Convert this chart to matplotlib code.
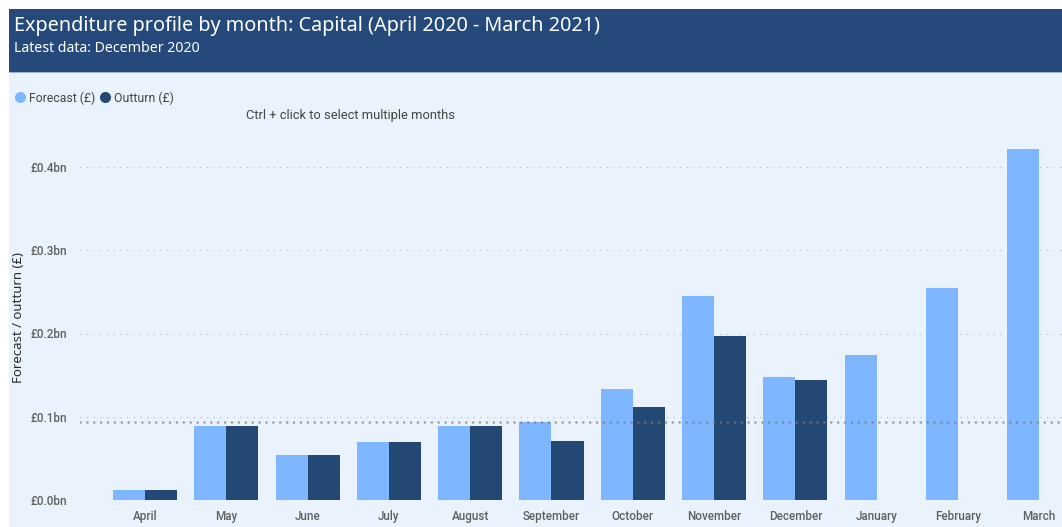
import matplotlib
matplotlib.use("Agg")
import matplotlib.pyplot as plt
from matplotlib.patches import Rectangle
from matplotlib.lines import Line2D
import numpy as np

months = ["April", "May", "June", "July", "August", "September", "October",
          "November", "December", "January", "February", "March"]
forecast = [0.012, 0.089, 0.054, 0.070, 0.089, 0.094, 0.133, 0.245, 0.148, 0.174, 0.255, 0.422]
outturn = [0.012, 0.089, 0.054, 0.070, 0.089, 0.071, 0.112, 0.197, 0.144, np.nan, np.nan, np.nan]
yticks = [0.0, 0.1, 0.2, 0.3, 0.4]
ytick_labels = ["£0.0bn", "£0.1bn", "£0.2bn", "£0.3bn", "£0.4bn"]

C_FORE = "#7eb6ff"
C_OUT = "#234873"
C_HEAD = "#24497a"
C_BG = "#eaf3fd"

W, H = 1062, 527
fig = plt.figure(figsize=(W / 100, H / 100), dpi=100)
fig.patch.set_facecolor("white")

def fx(px):
    return px / W

def fy(py):
    return 1 - py / H

# background panel and header band
fig.patches.append(Rectangle((fx(9), 0), 1 - fx(9), fy(72), transform=fig.transFigure,
                             facecolor=C_BG, edgecolor="none", zorder=-5))
fig.patches.append(Rectangle((fx(9), fy(72)), 1 - fx(9), fy(9) - fy(72), transform=fig.transFigure,
                             facecolor=C_HEAD, edgecolor="none", zorder=-5))
fig.patches.append(Rectangle((fx(9), fy(73)), 1 - fx(9), fy(72) - fy(73), transform=fig.transFigure,
                             facecolor="#9db4d1", edgecolor="none", zorder=-5))

fig.text(fx(14), fy(26), "Expenditure profile by month: Capital (April 2020 - March 2021)",
         color="white", fontsize=14.3, family="Noto Sans", va="center", ha="left")
fig.text(fx(14), fy(49), "Latest data: December 2020", color="white", fontsize=10.2,
         family="Noto Sans", va="center", ha="left")

# axes
top_px, bot_px = 135, 500
left_px, right_px = 80, 1062
ax = fig.add_axes([fx(left_px), fy(bot_px), fx(right_px - left_px), fy(top_px) - fy(bot_px)])
ax.set_facecolor("none")
for s in ax.spines.values():
    s.set_visible(False)

x = np.arange(len(months))
bw = 0.395
ax.bar(x - bw / 2, forecast, width=bw, color=C_FORE, zorder=2, label="Forecast (£)")
ax.bar(x + bw / 2, outturn, width=bw, color=C_OUT, zorder=2, label="Outturn (£)")

avg = np.nanmean(outturn)
ax.axhline(avg, color="#7a7a7a", alpha=0.7, lw=1.9, linestyle=(0, (0.01, 2.6)),
           dash_capstyle="round", zorder=3)

ax.set_ylim(0, (bot_px - top_px) / 832.5)
ax.set_xlim(-0.8, 11.28)
ax.set_yticks(yticks)
ax.set_yticklabels(ytick_labels)
ax.set_xticks(x)
ax.set_xticklabels(months)
ax.tick_params(axis="both", length=0, colors="#5f5f5f", labelsize=8.4)
ax.tick_params(axis="y", pad=9)
ax.tick_params(axis="x", pad=7)
for lab in ax.get_xticklabels() + ax.get_yticklabels():
    lab.set_family("Roboto")
    lab.set_fontweight("medium")
ax.yaxis.grid(True, color="#b8b8b8", lw=0.8, linestyle=(0, (1, 5)))
ax.xaxis.grid(False)
ax.set_axisbelow(True)

fig.text(fx(19), (fy(top_px) + fy(bot_px)) / 2, "Forecast / outturn (£)", rotation=90,
         color="#2a2a2a", fontsize=9.5, family="Noto Sans", ha="center", va="center")

handles = [Line2D([], [], marker="o", color="none", markerfacecolor=C_FORE, markeredgecolor="none", markersize=8),
           Line2D([], [], marker="o", color="none", markerfacecolor=C_OUT, markeredgecolor="none", markersize=8)]
fig.legend(handles, ["Forecast (£)", "Outturn (£)"], loc="center left",
           bbox_to_anchor=(fx(4), fy(98)), ncol=2, frameon=False, handlelength=0.8,
           handletextpad=0.35, columnspacing=0.4, prop={"family": "Roboto", "size": 8.8},
           labelcolor="#444444")

fig.text(fx(350), fy(116), "Ctrl + click to select multiple months", color="#444444",
         fontsize=9.3, family="Roboto", ha="center", va="center")

fig.savefig("out.png", dpi=100)
